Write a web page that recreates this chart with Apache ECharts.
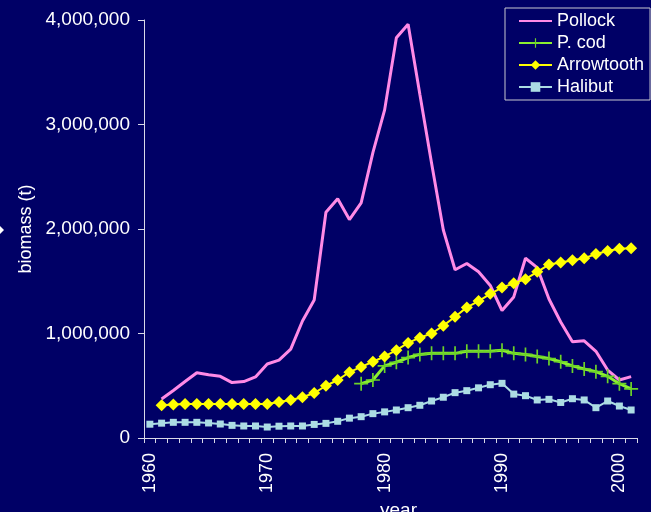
<!DOCTYPE html>
<html>
<head>
<meta charset="utf-8">
<script src="https://cdn.jsdelivr.net/npm/echarts@6/dist/echarts.min.js"></script>
<style>
    html, body { margin: 0; padding: 0; background: #000066; }
    #chart { width: 651px; height: 512px; }
</style>
</head>
<body>
<div id="chart"></div>
<script>
// years 1960 - 2001
var years = [];
for (var y = 1960; y <= 2001; y++) years.push(String(y));

// biomass (t)
var pollock = [null, 373000, 455000, 540000, 625000, 605000, 590000, 530000, 540000, 584000,
    708000, 745000, 850000, 1120000, 1320000, 2160000, 2290000, 2090000, 2250000, 2730000,
    3140000, 3830000, 3960000, 3290000, 2630000, 1990000, 1610000, 1670000, 1590000, 1460000,
    1220000, 1350000, 1720000, 1630000, 1330000, 1110000, 920000, 930000, 830000, 650000,
    555000, 587000];
var pcod = [null, null, null, null, null, null, null, null, null, null,
    null, null, null, null, null, null, null, null, 520000, 555000,
    690000, 725000, 770000, 800000, 810000, 810000, 810000, 830000, 830000, 830000,
    840000, 810000, 800000, 780000, 760000, 730000, 690000, 660000, 635000, 590000,
    520000, 470000];
var arrowtooth = [null, 313000, 320000, 325000, 325000, 325000, 325000, 325000, 325000, 325000,
    325000, 345000, 364000, 390000, 430000, 500000, 555000, 630000, 680000, 730000,
    780000, 840000, 910000, 960000, 1000000, 1075000, 1160000, 1250000, 1310000, 1380000,
    1440000, 1480000, 1520000, 1590000, 1660000, 1680000, 1700000, 1720000, 1760000, 1790000,
    1810000, 1815000];
var halibut = [132000, 142000, 150000, 150000, 150000, 144000, 134000, 121000, 115000, 115000,
    105000, 113000, 115000, 115000, 130000, 140000, 160000, 190000, 204000, 233000,
    250000, 268000, 290000, 313000, 354000, 390000, 434000, 453000, 480000, 510000,
    523000, 420000, 405000, 364000, 370000, 340000, 376000, 364000, 290000, 354000,
    306000, 268000];

var axisColor = '#d8d8e8';
var textColor = '#ffffff';
var fontFamily = '"Liberation Sans", Arial, sans-serif';

var chart = echarts.init(document.getElementById('chart'));
chart.setOption({
    backgroundColor: '#000066',
    animation: false,
    textStyle: { fontFamily: fontFamily },
    grid: {
        left: 144,
        right: 14,
        top: 20,
        bottom: 74,
        outerBoundsMode: 'none'
    },
    legend: {
        orient: 'vertical',
        left: 505,
        top: 8,
        padding: [3, 6, 3, 13],
        itemGap: 2,
        itemWidth: 33,
        itemHeight: 12,
        borderColor: '#c8c8d0',
        borderWidth: 1,
        textStyle: { color: textColor, fontSize: 18, lineHeight: 20, fontFamily: fontFamily },
        data: [
            { name: 'Pollock', itemStyle: { opacity: 0 } },
            'P. cod', 'Arrowtooth', 'Halibut'
        ]
    },
    xAxis: {
        type: 'category',
        data: years,
        boundaryGap: true,
        name: 'year',
        nameLocation: 'middle',
        nameGap: 54,
        nameTextStyle: { color: textColor, fontSize: 19, padding: [0, 0, 0, 16] },
        axisLine: { lineStyle: { color: axisColor, width: 1 } },
        axisTick: { show: true, interval: 0, length: 5, inside: false, lineStyle: { color: axisColor } },
        axisLabel: {
            interval: 9,
            rotate: 90,
            margin: 15,
            color: textColor,
            fontSize: 18
        },
        splitLine: { show: false }
    },
    yAxis: {
        type: 'value',
        min: 0,
        max: 4000000,
        interval: 1000000,
        name: 'biomass (t)',
        nameLocation: 'middle',
        nameGap: 104,
        nameTextStyle: { color: textColor, fontSize: 18 },
        axisLine: { show: true, lineStyle: { color: axisColor, width: 1 } },
        axisTick: { show: true, length: 6, lineStyle: { color: axisColor } },
        axisLabel: {
            margin: 14,
            color: textColor,
            fontSize: 19,
            formatter: function (v) { return v.toLocaleString('en-US'); }
        },
        splitLine: { show: false }
    },
    series: [
        {
            name: 'Pollock',
            type: 'line',
            data: pollock,
            symbol: 'none',
            connectNulls: false,
            itemStyle: { color: '#ff8ae6' },
            lineStyle: { color: '#ff8ae6', width: 3 }
        },
        {
            name: 'P. cod',
            type: 'line',
            data: pcod,
            symbol: 'path://M4.4,0h1.2v10h-1.2zM0,4.4h10v1.2h-10z',
            symbolSize: 14,
            showAllSymbol: true,
            itemStyle: { color: '#6cd428' },
            lineStyle: { color: '#8cf030', width: 3 }
        },
        {
            name: 'Arrowtooth',
            type: 'line',
            data: arrowtooth,
            symbol: 'diamond',
            symbolSize: 12,
            showAllSymbol: true,
            itemStyle: { color: '#ffff00' },
            lineStyle: { color: '#ffff00', width: 2 }
        },
        {
            name: 'Halibut',
            type: 'line',
            data: halibut,
            symbol: 'rect',
            symbolSize: 7,
            showAllSymbol: true,
            itemStyle: { color: '#acdce4' },
            lineStyle: { color: '#acdce4', width: 2 }
        }
    ],
    graphic: [
        {
            type: 'polygon',
            shape: { points: [[-6, 230], [-1, 225], [4, 230], [-1, 235]] },
            style: { fill: '#ffffff' }
        }
    ]
});
</script>
</body>
</html>
